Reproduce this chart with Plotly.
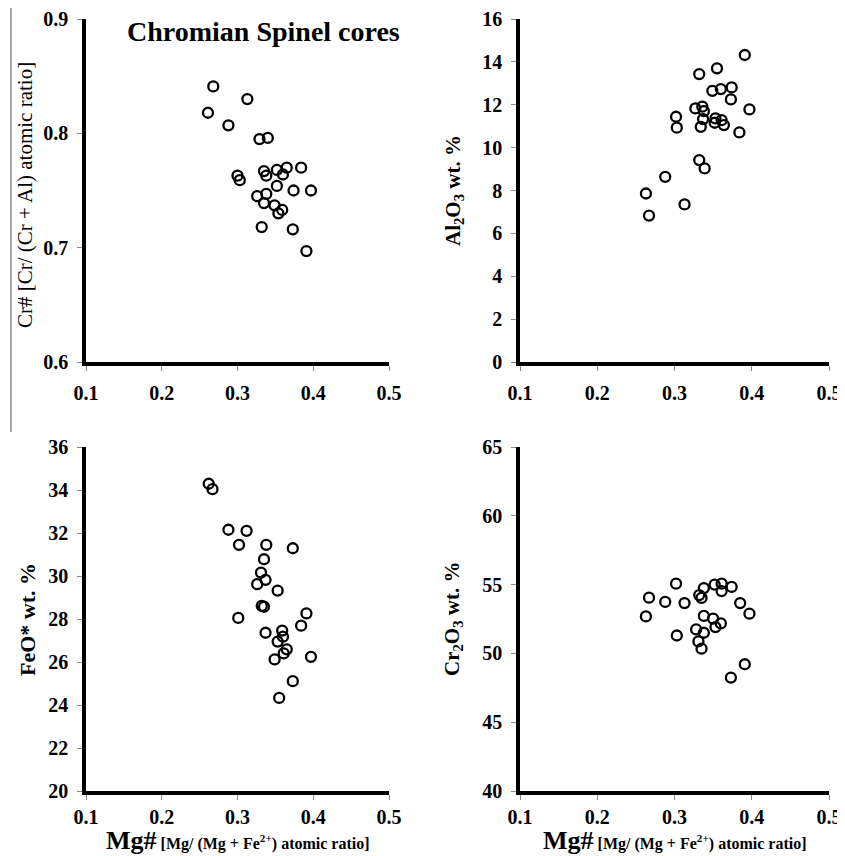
import plotly.graph_objects as go

# ---------------- data ----------------
# Panel 1: Cr# vs Mg#
mg_p1 = [0.261, 0.268, 0.288, 0.300, 0.303, 0.313, 0.326, 0.329, 0.332, 0.335, 0.335,
         0.338, 0.338, 0.340, 0.349, 0.352, 0.352, 0.354, 0.359, 0.360, 0.365, 0.373,
         0.374, 0.384, 0.391, 0.397]
cr_num = [0.818, 0.841, 0.807, 0.763, 0.759, 0.830, 0.745, 0.795, 0.718, 0.767, 0.739,
          0.763, 0.747, 0.796, 0.737, 0.768, 0.754, 0.730, 0.733, 0.764, 0.770, 0.716,
          0.750, 0.770, 0.697, 0.750]

# Panel 2: Al2O3 vs Mg#
mg_p2 = [0.263, 0.267, 0.288, 0.302, 0.303, 0.313, 0.327, 0.332, 0.332, 0.334, 0.336,
         0.337, 0.338, 0.339, 0.349, 0.352, 0.353, 0.355, 0.360, 0.361, 0.364, 0.373,
         0.374, 0.384, 0.391, 0.397]
al2o3 = [7.86, 6.83, 8.64, 11.44, 10.93, 7.35, 11.83, 13.43, 9.42, 10.97, 11.91,
         11.33, 11.70, 9.03, 12.65, 11.16, 11.36, 13.70, 12.73, 11.28, 11.05, 12.25,
         12.81, 10.71, 14.32, 11.78]

# Panel 3: FeO* vs Mg#
mg_p3 = [0.262, 0.267, 0.288, 0.312, 0.302, 0.338, 0.373, 0.335, 0.331, 0.326, 0.337,
         0.353, 0.332, 0.335, 0.391, 0.301, 0.384, 0.359, 0.337, 0.360, 0.353, 0.365,
         0.361, 0.397, 0.349, 0.373, 0.355]
feo = [34.29, 34.04, 32.15, 32.10, 31.45, 31.45, 31.29, 30.78, 30.16, 29.62, 29.82,
       29.32, 28.61, 28.57, 28.26, 28.05, 27.69, 27.46, 27.36, 27.18, 26.95, 26.59,
       26.40, 26.24, 26.12, 25.11, 24.33]

# Panel 4: Cr2O3 vs Mg#
mg_p4 = [0.302, 0.352, 0.361, 0.374, 0.338, 0.361, 0.267, 0.332, 0.335, 0.288, 0.313,
         0.385, 0.397, 0.263, 0.338, 0.350, 0.360, 0.353, 0.328, 0.338, 0.303, 0.331,
         0.335, 0.391, 0.373]
cr2o3 = [55.07, 55.00, 55.07, 54.83, 54.75, 54.53, 54.05, 54.24, 54.03, 53.74, 53.66,
         53.66, 52.89, 52.69, 52.72, 52.52, 52.18, 51.91, 51.74, 51.50, 51.30, 50.87,
         50.34, 49.21, 48.24]

x_ticks = [0.1, 0.2, 0.3, 0.4, 0.5]
y1_ticks = [0.6, 0.7, 0.8, 0.9]
y2_ticks = [0, 2, 4, 6, 8, 10, 12, 14, 16]
y3_ticks = [20, 22, 24, 26, 28, 30, 32, 34, 36]
y4_ticks = [40, 45, 50, 55, 60, 65]

# ---------------- layout geometry ----------------
# the page body has an 8px margin, so the figure is offset by 8px
OFF = 8
W, H = 845 - OFF, 856 - OFF
def fx(px):
    return (px - OFF) / W
def fy(py):
    return 1 - (py - OFF) / H

SERIF = "Liberation Serif"
tickfont = dict(family=SERIF, size=20, color="black", weight="bold")

marker = dict(symbol="circle-open", size=10, color="black", line=dict(width=2.3, color="black"))

fig = go.Figure()
panels = [
    (mg_p1, cr_num, "x", "y"),
    (mg_p2, al2o3, "x2", "y2"),
    (mg_p3, feo, "x3", "y3"),
    (mg_p4, cr2o3, "x4", "y4"),
]
for xs, ys, xa, ya in panels:
    fig.add_trace(go.Scatter(x=xs, y=ys, mode="markers", marker=marker,
                             xaxis=xa, yaxis=ya, showlegend=False, cliponaxis=False))

def xaxis(domain, anchor, standoff):
    return dict(domain=domain, anchor=anchor, range=[0.1, 0.5], tickmode="array",
                tickvals=x_ticks, ticktext=[f"{v:.1f}" for v in x_ticks],
                showline=True, linecolor="black", linewidth=3.5,
                ticks="outside", ticklen=5, tickwidth=1, tickcolor="#888",
                tickfont=tickfont, ticklabelstandoff=standoff, automargin=False,
                showgrid=False, zeroline=False, fixedrange=True)

def yaxis(domain, anchor, rng, ticks, fmt):
    return dict(domain=domain, anchor=anchor, range=rng, tickmode="array",
                tickvals=ticks, ticktext=[fmt(v) for v in ticks],
                showline=True, linecolor="black", linewidth=3.5,
                ticks="outside", ticklen=5, tickwidth=1, tickcolor="#888",
                tickfont=tickfont, ticklabelstandoff=5, automargin=False,
                showgrid=False, zeroline=False, fixedrange=True)

left_dom = [fx(86), fx(389)]
right_dom = [fx(520), fx(829)]
top_dom = [fy(362), fy(19)]
bot_dom = [fy(791), fy(447)]

fig.update_layout(
    width=W, height=H,
    margin=dict(l=0, r=0, t=0, b=0, autoexpand=False),
    paper_bgcolor="white", plot_bgcolor="white",
    font=dict(family=SERIF, color="black"),
    xaxis=xaxis(left_dom, "y", 5),
    yaxis=yaxis(top_dom, "x", [0.6, 0.9], y1_ticks, lambda v: f"{v:.1f}"),
    xaxis2=xaxis(right_dom, "y2", 5),
    yaxis2=yaxis(top_dom, "x2", [0, 16], y2_ticks, lambda v: f"{v}"),
    xaxis3=xaxis(left_dom, "y3", 0),
    yaxis3=yaxis(bot_dom, "x3", [20, 36], y3_ticks, lambda v: f"{v}"),
    xaxis4=xaxis(right_dom, "y4", 0),
    yaxis4=yaxis(bot_dom, "x4", [40, 65], y4_ticks, lambda v: f"{v}"),
)

ann = []
# Title inside panel 1
ann.append(dict(text="<b>Chromian Spinel cores</b>", x=fx(263), y=fy(32), xref="paper", yref="paper",
                showarrow=False, font=dict(family=SERIF, size=28, color="black"),
                xanchor="center", yanchor="middle"))
# Y-axis titles
ann.append(dict(text="Cr# [Cr/ (Cr + Al) atomic ratio]", x=fx(25), y=fy(195), xref="paper", yref="paper",
                showarrow=False, textangle=-90, font=dict(family=SERIF, size=21, color="black"),
                xanchor="center", yanchor="middle"))
ann.append(dict(text="<b>Al<sub>2</sub>O<sub>3</sub> wt. %</b>", x=fx(454), y=fy(191), xref="paper", yref="paper",
                showarrow=False, textangle=-90, font=dict(family=SERIF, size=21, color="black"),
                xanchor="center", yanchor="middle"))
ann.append(dict(text="<b>FeO* wt. %</b>", x=fx(27), y=fy(620), xref="paper", yref="paper",
                showarrow=False, textangle=-90, font=dict(family=SERIF, size=22, color="black"),
                xanchor="center", yanchor="middle"))
ann.append(dict(text="<b>Cr<sub>2</sub>O<sub>3</sub> wt. %</b>", x=fx(453), y=fy(619), xref="paper", yref="paper",
                showarrow=False, textangle=-90, font=dict(family=SERIF, size=21, color="black"),
                xanchor="center", yanchor="middle"))
# X-axis titles (bottom row)
xt = ("<b><span style='font-size:26px'>Mg#</span> "
      "<span style='font-size:16px'>[Mg/ (Mg + Fe<sup>2+</sup>) atomic ratio]</span></b>")
ann.append(dict(text=xt, x=fx(238), y=fy(840), xref="paper", yref="paper",
                showarrow=False, font=dict(family=SERIF, size=16, color="black"),
                xanchor="center", yanchor="middle"))
ann.append(dict(text=xt, x=fx(675), y=fy(840), xref="paper", yref="paper",
                showarrow=False, font=dict(family=SERIF, size=16, color="black"),
                xanchor="center", yanchor="middle"))
fig.update_layout(annotations=ann)

# thin grey border line at the left of the upper half
fig.add_shape(type="line", xref="paper", yref="paper", x0=fx(11), x1=fx(11), y0=fy(8), y1=fy(432),
              line=dict(color="#8a8a8a", width=1.5))

fig.write_html("out.html")
